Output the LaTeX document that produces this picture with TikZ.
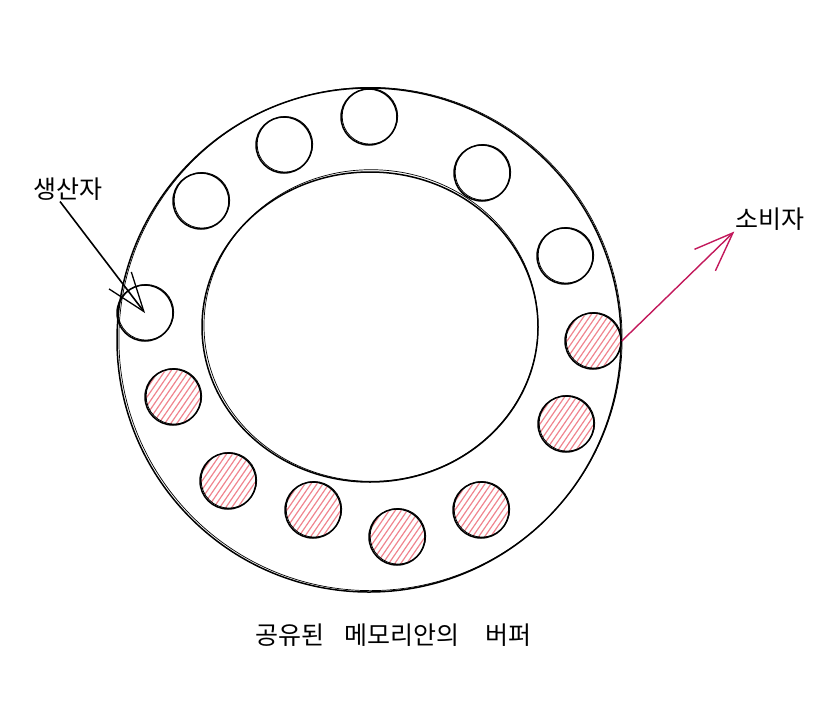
\documentclass[tikz,border=0pt]{standalone}
\usepackage{fontspec}
\newfontfamily\kr{Noto Sans CJK KR}
\usetikzlibrary{arrows.meta,calc}
\definecolor{hatch}{HTML}{F0858F}
\definecolor{consumer}{HTML}{C2185B}
\tikzset{
  sketch/.style={draw=black, line width=1.5pt},
  slot/.style={circle, draw=black, line width=1.5pt, minimum size=56pt, inner sep=0pt},
  lbl/.style={font=\kr\fontsize{25}{28}\selectfont, inner sep=1pt},
  ttl/.style={font=\kr\fontsize{25}{28}\selectfont, inner sep=0pt},
}
\newcommand{\hatchcircle}[1]{%
  \begin{scope}
    \clip (#1) circle (27pt);
    \foreach \k in {-48,-42,...,48} {
      \draw[hatch, line width=1.2pt] ($(#1)+(\k-24,32)$) -- ($(#1)+(\k+20,-32)$);
    }
  \end{scope}
  \draw[black, line width=0.8pt] ($(#1)+(0.9,-0.7)$) circle (27.8pt);
}
\begin{document}
\begin{tikzpicture}[x=1pt,y=-1pt]
\useasboundingbox (0,0) rectangle (818,720);
% ring
\draw[sketch] (369,340) circle (252);
\draw[black, line width=0.7pt] (370.5,339) circle (251.6);
\draw[sketch] (370,327) ellipse (168 and 155);
\draw[black, line width=0.7pt] (371,325.5) ellipse (167 and 155.8);
% slots
\coordinate (p1) at (145,313);
\coordinate (p2) at (201,201);
\coordinate (p3) at (284,145);
\coordinate (p4) at (369,117);
\coordinate (p5) at (482,173);
\coordinate (p6) at (565,256);
\coordinate (p7) at (593,341);
\coordinate (p8) at (566,424);
\coordinate (p9) at (481,510);
\coordinate (p10) at (397,537);
\coordinate (p11) at (313,510);
\coordinate (p12) at (228,481);
\coordinate (p13) at (173,397);
\foreach \i in {7,...,13} {\hatchcircle{p\i}}
\foreach \i in {1,...,13} {
  \node[slot] (c\i) at (p\i) {};
}
\foreach \i in {1,...,6} {
  \draw[black, line width=0.8pt] ($(p\i)+(0.9,-0.7)$) circle (27.8pt);
}
% labels
\node[lbl] (prod) at (68,189) {생산자};
\node[lbl] (cons) at (770,219) {소비자};
\node[ttl, anchor=west] (title) at (255,635) {\makebox[89pt][l]{공유된}\makebox[141pt][l]{메모리안의}버퍼};
% arrows
\draw[black, line width=1.6pt, -{Straight Barb[length=39pt,width=28pt,line width=1.3pt]}]
  ($(prod.south)+(-8,0)$) -- (c1.center);
\draw[consumer, line width=1.4pt, -{Straight Barb[length=39pt,width=30pt,line width=1.4pt]}]
  (c7.east) -- (cons.south west);
\end{tikzpicture}
\end{document}
